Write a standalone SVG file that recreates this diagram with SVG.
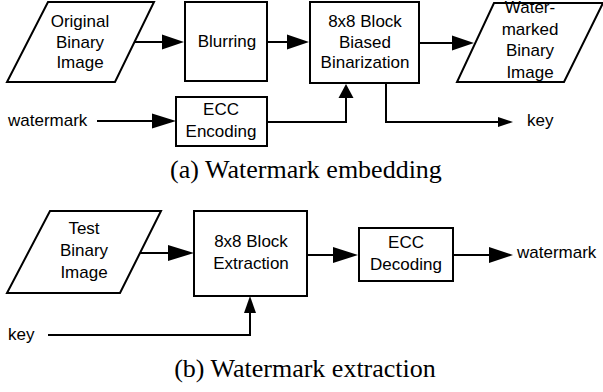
<svg xmlns="http://www.w3.org/2000/svg" width="603" height="392" viewBox="0 0 603 392">
<style>
.shape{fill:#fff;stroke:#000;stroke-width:2}
.lbl{font-family:"Liberation Sans",Arial,sans-serif;font-size:17px;fill:#000;text-anchor:middle}
.txt{font-family:"Liberation Sans",Arial,sans-serif;font-size:17px;fill:#000}
.cap{font-family:"Liberation Serif","Times New Roman",serif;font-size:26px;fill:#000;text-anchor:middle}
.ln{fill:none;stroke:#000;stroke-width:2}
.hd{fill:#000;stroke:none}
</style>
<rect width="603" height="392" fill="#fff"/>
<g id="original">
<polygon class="shape" points="48,2 154,2 115,82 7,82"/>
<text class="lbl" x="80" y="27">Original</text>
<text class="lbl" x="80" y="48">Binary</text>
<text class="lbl" x="80" y="68">Image</text>
</g>
<g id="blurring">
<rect class="shape" x="185" y="2" width="82" height="79"/>
<text class="lbl" x="227" y="47">Blurring</text>
</g>
<g id="binarization">
<rect class="shape" x="310" y="2" width="109" height="81"/>
<text class="lbl" x="365" y="27">8x8 Block</text>
<text class="lbl" x="365" y="48">Biased</text>
<text class="lbl" x="365" y="68">Binarization</text>
</g>
<g id="watermarked">
<polygon class="shape" points="494,3 603,3 564,82 457,82"/>
<text class="lbl" x="530" y="13">Water-</text>
<text class="lbl" x="530" y="35">marked</text>
<text class="lbl" x="530" y="56">Binary</text>
<text class="lbl" x="530" y="78">Image</text>
</g>
<g id="ecc-encoding">
<rect class="shape" x="176" y="97" width="91" height="49"/>
<text class="lbl" x="221" y="115">ECC</text>
<text class="lbl" x="221" y="137">Encoding</text>
</g>
<g id="watermark-in"><text class="txt" x="8" y="126">watermark</text></g>
<g id="key-out"><text class="txt" x="527" y="126">key</text></g>
<g id="test">
<polygon class="shape" points="50,211 161,211 120,293 7,293"/>
<text class="lbl" x="84" y="234">Test</text>
<text class="lbl" x="84" y="256">Binary</text>
<text class="lbl" x="84" y="278">Image</text>
</g>
<g id="extraction">
<rect class="shape" x="194" y="211" width="113" height="85"/>
<text class="lbl" x="251" y="247">8x8 Block</text>
<text class="lbl" x="251" y="269">Extraction</text>
</g>
<g id="ecc-decoding">
<rect class="shape" x="359" y="228" width="94" height="53"/>
<text class="lbl" x="406" y="248">ECC</text>
<text class="lbl" x="406" y="270">Decoding</text>
</g>
<g id="key-in"><text class="txt" x="8" y="340">key</text></g>
<g id="watermark-out"><text class="txt" x="517" y="258">watermark</text></g>
<g id="connectors">
<line class="ln" x1="135" y1="42" x2="164" y2="42"/>
<polygon class="hd" points="162,34.5 184,42 162,49.5"/>
<line class="ln" x1="267" y1="42" x2="289" y2="42"/>
<polygon class="hd" points="287,34.5 309,42 287,49.5"/>
<line class="ln" x1="419" y1="43" x2="454" y2="43"/>
<polygon class="hd" points="452,35.5 474,43 452,50.5"/>
<line class="ln" x1="97" y1="121" x2="154" y2="121"/>
<polygon class="hd" points="152,113.5 176,121 152,128.5"/>
<polyline class="ln" points="267,122 346,122 346,96"/>
<polygon class="hd" points="338.5,98 353.5,98 346,84"/>
<polyline class="ln" points="386,83 386,122 500,122"/>
<polygon class="hd" points="498,117 513,122 498,127"/>
<line class="ln" x1="140" y1="253" x2="170" y2="253"/>
<polygon class="hd" points="168,245 194,253 168,261"/>
<polyline class="ln" points="48,335 250,335 250,311"/>
<polygon class="hd" points="244,313 256,313 250,296"/>
<line class="ln" x1="307" y1="255" x2="335" y2="255"/>
<polygon class="hd" points="333,247 358,255 333,263"/>
<line class="ln" x1="453" y1="255" x2="491" y2="255"/>
<polygon class="hd" points="489,247 513,255 489,263"/>
</g>
<g id="captions">
<text class="cap" x="306" y="178">(a) Watermark embedding</text>
<text class="cap" x="305" y="377">(b) Watermark extraction</text>
</g>
</svg>
